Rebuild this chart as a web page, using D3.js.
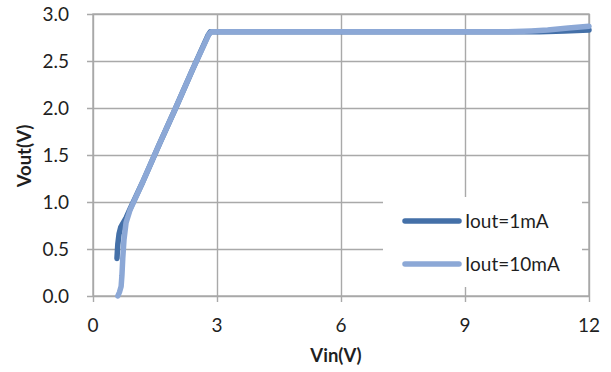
<!DOCTYPE html>
<html>
<head>
<meta charset="utf-8">
<script src="https://cdn.jsdelivr.net/npm/d3@7"></script>
<style>
  html, body { margin: 0; padding: 0; background: #fff; }
  svg { display: block; }
  text { font-family: Lato, "Open Sans", sans-serif; fill: #1f1f1f; }
</style>
</head>
<body>
<svg id="chart" width="611" height="372"></svg>
<script>
// Vout vs Vin for two load currents
const seriesNames = ["Iout=1mA", "Iout=10mA"];
const vin1mA  = [0.58, 0.60, 0.63, 0.67, 0.72, 0.80, 0.90, 1.20, 1.60, 2.00, 2.40, 2.78, 2.84, 2.95, 4.00, 5.00, 6.00, 7.00, 8.00, 9.00, 10.00, 10.80, 11.40, 12.00];
const vout1mA = [0.40, 0.55, 0.66, 0.73, 0.77, 0.83, 0.93, 1.21, 1.61, 2.00, 2.40, 2.77, 2.81, 2.81, 2.81, 2.81, 2.81, 2.81, 2.81, 2.81, 2.81, 2.81, 2.82, 2.83];
const vin10mA  = [0.60, 0.64, 0.68, 0.70, 0.72, 0.75, 0.80, 0.90, 1.20, 1.60, 2.00, 2.40, 2.80, 2.86, 2.97, 4.00, 5.00, 6.00, 7.00, 8.00, 9.00, 10.00, 10.60, 11.00, 11.50, 12.00];
const vout10mA = [0.00, 0.04, 0.10, 0.22, 0.40, 0.60, 0.78, 0.92, 1.21, 1.61, 2.00, 2.40, 2.78, 2.81, 2.81, 2.81, 2.81, 2.81, 2.81, 2.81, 2.81, 2.81, 2.82, 2.83, 2.85, 2.87];
const xTicks = [0, 3, 6, 9, 12];
const yTicks = [0, 0.5, 1.0, 1.5, 2.0, 2.5, 3.0];

const colors = ["#4470a8", "#8ca8d6"];

const svg = d3.select("#chart");
const mLeft = 93, mRight = 589, mTop = 14, mBottom = 296;

const x = d3.scaleLinear().domain([0, 12]).range([mLeft, mRight]);
const y = d3.scaleLinear().domain([0, 3]).range([mBottom, mTop]);

const gridColor = "#a9a9a9";

// horizontal gridlines with ticks extending left of the axis
svg.append("g")
  .attr("transform", `translate(${mLeft},0)`)
  .call(d3.axisLeft(y).tickValues(yTicks).tickSize(-(mRight - mLeft)).tickSizeOuter(0).tickFormat(""))
  .call(g => g.select(".domain").remove())
  .call(g => g.selectAll("line").attr("x1", -6).attr("stroke", gridColor).attr("stroke-width", 1.4));

// vertical gridlines with ticks extending below the axis
svg.append("g")
  .attr("transform", `translate(0,${mBottom})`)
  .call(d3.axisBottom(x).tickValues(xTicks).tickSize(-(mBottom - mTop)).tickSizeOuter(0).tickFormat(""))
  .call(g => g.select(".domain").remove())
  .call(g => g.selectAll("line").attr("y1", 6).attr("stroke", gridColor).attr("stroke-width", 1.4));

// plot area frame
svg.append("rect")
  .attr("x", mLeft).attr("y", mTop)
  .attr("width", mRight - mLeft).attr("height", mBottom - mTop)
  .attr("fill", "none").attr("stroke", gridColor).attr("stroke-width", 1.4);

// legend background hides the gridlines behind it
svg.append("rect")
  .attr("x", 383).attr("y", 197).attr("width", 199).attr("height", 90)
  .attr("fill", "#fff");

// tick labels
svg.append("g").selectAll("text").data(yTicks).join("text")
  .attr("x", 69).attr("y", d => y(d)).attr("dy", "0.36em")
  .attr("text-anchor", "end").attr("font-size", 19)
  .text(d => d.toFixed(1));

svg.append("g").selectAll("text").data(xTicks).join("text")
  .attr("x", d => x(d)).attr("y", 332)
  .attr("text-anchor", "middle").attr("font-size", 19)
  .text(d => d);

// axis titles
svg.append("text")
  .attr("transform", `translate(31,156) rotate(-90)`)
  .attr("text-anchor", "middle").attr("font-size", 18.5).attr("font-weight", "bold")
  .text("Vout(V)");
svg.append("text")
  .attr("x", 336).attr("y", 362)
  .attr("text-anchor", "middle").attr("font-size", 18.5).attr("font-weight", "bold")
  .text("Vin(V)");

// series lines
const line = d3.line().x(d => x(d[0])).y(d => y(d[1])).curve(d3.curveLinear);
const series = [
  d3.zip(vin1mA, vout1mA),
  d3.zip(vin10mA, vout10mA)
];
svg.append("g").selectAll("path").data(series).join("path")
  .attr("d", line)
  .attr("fill", "none")
  .attr("stroke", (d, i) => colors[i])
  .attr("stroke-width", 5.5)
  .attr("stroke-linejoin", "round")
  .attr("stroke-linecap", "round");

// legend
const legendY = [221, 264];
const lg = svg.append("g").selectAll("g").data(seriesNames).join("g");
lg.append("line")
  .attr("x1", 405).attr("x2", 459)
  .attr("y1", (d, i) => legendY[i]).attr("y2", (d, i) => legendY[i])
  .attr("stroke", (d, i) => colors[i]).attr("stroke-width", 5.5).attr("stroke-linecap", "round");
lg.append("text")
  .attr("x", 465).attr("y", (d, i) => legendY[i]).attr("dy", "0.36em")
  .attr("font-size", 19)
  .text(d => d);
</script>
</body>
</html>
